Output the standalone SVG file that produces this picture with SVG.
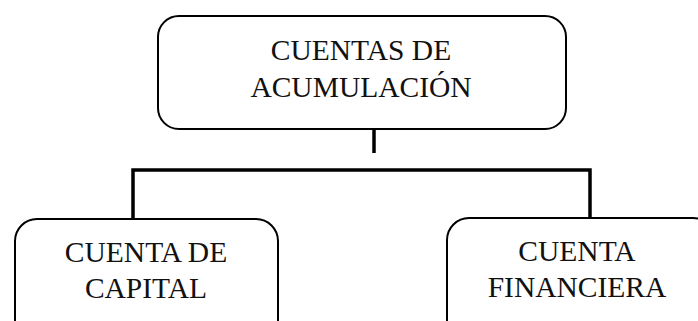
<svg xmlns="http://www.w3.org/2000/svg" width="698" height="321" viewBox="0 0 698 321">
<style>
.box{fill:#fff;stroke:#000;stroke-width:2}
.t{font-family:"Liberation Serif","Times New Roman",serif;font-size:29.5px;fill:#111;text-anchor:middle}
.c{fill:none;stroke:#000;stroke-width:3.5}
</style>
<rect width="698" height="321" fill="#fff"/>
<g id="connectors">
<line class="c" x1="374" y1="129" x2="374" y2="153"/>
<polyline class="c" points="133,218 133,170 590,170 590,217"/>
</g>
<g id="n-acumulacion">
<rect class="box" x="158" y="16" width="408" height="113" rx="21"/>
<text class="t" x="361" y="60">CUENTAS DE</text>
<text class="t" x="361" y="97">ACUMULACIÓN</text>
</g>
<g id="n-capital">
<rect class="box" x="15" y="219" width="263" height="140" rx="22"/>
<text class="t" x="146" y="262">CUENTA DE</text>
<text class="t" x="146" y="298">CAPITAL</text>
</g>
<g id="n-financiera">
<rect class="box" x="447" y="218" width="268" height="140" rx="22"/>
<text class="t" x="577" y="261">CUENTA</text>
<text class="t" x="577" y="297">FINANCIERA</text>
</g>
</svg>
